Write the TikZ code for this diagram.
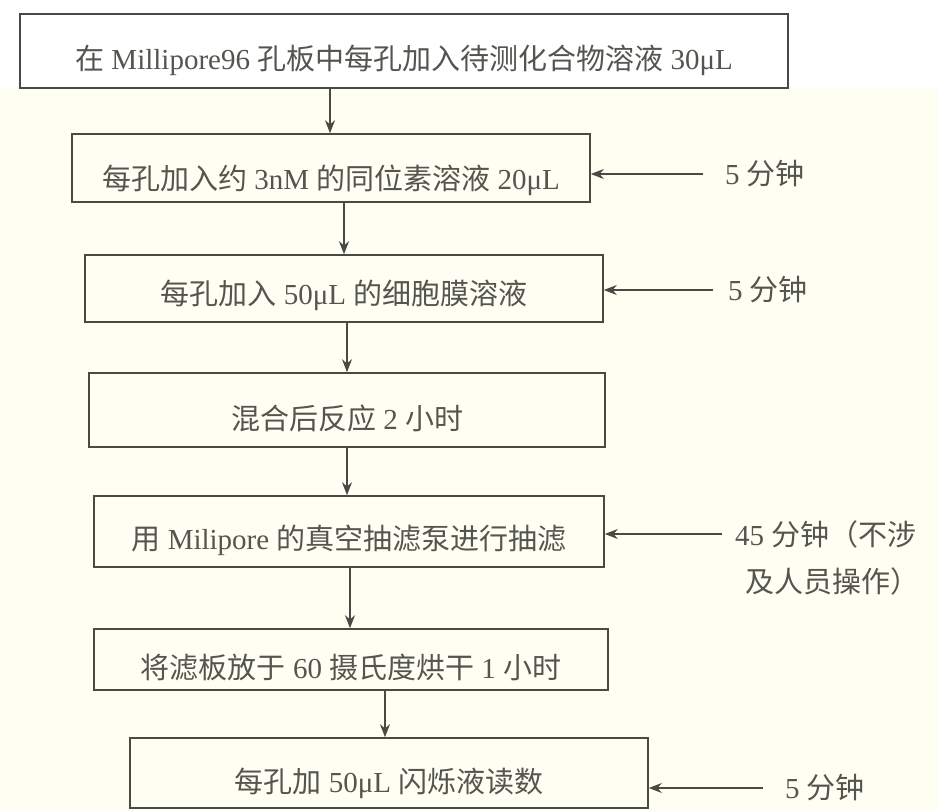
\documentclass[tikz,border=0pt]{standalone}
\usepackage{fontspec}
\setmainfont{Liberation Serif}
\newfontfamily\cjk{Noto Sans CJK SC}
\usetikzlibrary{arrows.meta}
\definecolor{ink}{HTML}{4A4A44}
\definecolor{txt}{HTML}{55554F}
\definecolor{paper}{HTML}{FFFEF3}
\newcommand{\Cj}[1]{{\cjk #1}}
\newcommand{\Dn}[2]{\raisebox{-#1pt}[\height][\depth]{#2}}
\begin{document}
\begin{tikzpicture}[x=1pt,y=-1pt,
  box/.style={draw=ink, line width=1.6pt, text=txt, font=\fontsize{29}{33}\selectfont, inner sep=0pt},
  lab/.style={text=txt, font=\fontsize{29}{33}\selectfont, inner sep=0pt, anchor=west},
  arr/.style={draw=ink, line width=1.4pt, -{Stealth[length=13pt,width=10pt]}}]
\fill[paper] (0,0) rectangle (938,811);
\fill[white] (0,0) rectangle (938,88);
\useasboundingbox (0,0) rectangle (938,811);

\node[box, minimum width=768pt, minimum height=74pt] (b1) at (404,51)
  {\Dn{9}{\Cj{在} Millipore96 \Cj{孔板中每孔加入待测化合物溶液} 30μL}};
\node[box, minimum width=518pt, minimum height=68pt] (b2) at (331,168)
  {\Dn{12}{\Cj{每孔加入约} 3nM \Cj{的同位素溶液} 20μL}};
\node[box, minimum width=518pt, minimum height=67pt] (b3) at (344,288.5)
  {\Dn{7}{\Cj{每孔加入} 50μL \Cj{的细胞膜溶液}}};
\node[box, minimum width=516pt, minimum height=74pt] (b4) at (347,410)
  {\Dn{8}{\Cj{混合后反应} 2 \Cj{小时}}};
\node[box, minimum width=510pt, minimum height=71pt] (b5) at (349,531.5)
  {\Dn{9}{\Cj{用} Milipore \Cj{的真空抽滤泵进行抽滤}}};
\node[box, minimum width=514pt, minimum height=61pt] (b6) at (351,659.5)
  {\Dn{8}{\Cj{将滤板放于} 60 \Cj{摄氏度烘干} 1 \Cj{小时}}};
\node[box, minimum width=518pt, minimum height=70pt] (b7) at (389,773)
  {\Dn{10}{\Cj{每孔加} 50μL \Cj{闪烁液读数}}};

\coordinate (v1) at (330,0);
\coordinate (v2) at (344,0);
\coordinate (v3) at (347,0);
\coordinate (v4) at (347,0);
\coordinate (v5) at (350,0);
\coordinate (v6) at (385,0);
\draw[arr] (b1.south -| v1) -- (b2.north -| v1);
\draw[arr] (b2.south -| v2) -- (b3.north -| v2);
\draw[arr] (b3.south -| v3) -- (b4.north -| v3);
\draw[arr] (b4.south -| v4) -- (b5.north -| v4);
\draw[arr] (b5.south -| v5) -- (b6.north -| v5);
\draw[arr] (b6.south -| v6) -- (b7.north -| v6);

\node[lab] (l2) at (725,174) {5 \Cj{分钟}};
\node[lab] (l3) at (728,290) {5 \Cj{分钟}};
\node[lab] (l5) at (735,534) {45 \Cj{分钟（不涉}};
\node[lab] (l5b) at (745,581) {\Cj{及人员操作）}};
\node[lab] (l7) at (785,788) {5 \Cj{分钟}};

\draw[arr, shorten <=22pt] (l2.west) -- (l2.west -| b2.east);
\draw[arr, shorten <=15pt] (l3.west) -- (l3.west -| b3.east);
\draw[arr, shorten <=13pt] (l5.west) -- (l5.west -| b5.east);
\draw[arr, shorten <=22pt] (l7.west) -- (l7.west -| b7.east);
\end{tikzpicture}
\end{document}
